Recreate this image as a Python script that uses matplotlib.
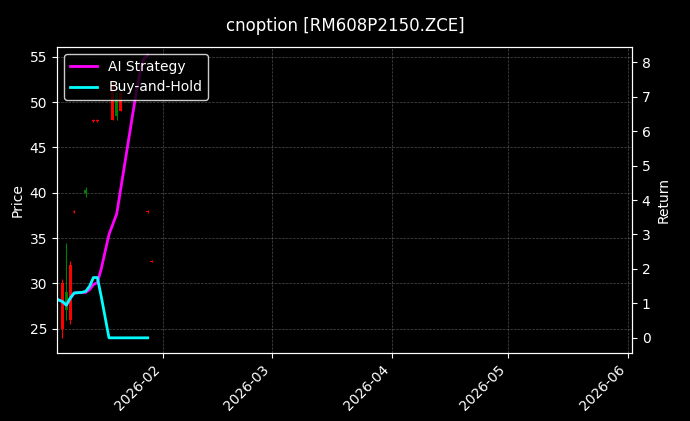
import matplotlib
matplotlib.use("Agg")
import matplotlib.pyplot as plt
import matplotlib.dates as mdates
import pandas as pd

candle_dates = ["2026-01-06","2026-01-07","2026-01-08","2026-01-09","2026-01-12","2026-01-14","2026-01-15",
                "2026-01-19","2026-01-20","2026-01-21","2026-01-28","2026-01-29"]
opens  = [30.0, 27.0, 32.0, 38.0, 40.0, 48.0, 48.0, 52.0, 48.5, 51.0, 38.0, 32.5]
closes = [25.0, 29.0, 26.0, 37.9, 40.3, 47.9, 47.9, 48.0, 51.0, 49.0, 37.9, 32.4]
highs  = [30.5, 34.5, 32.5, 38.1, 40.6, 48.1, 48.1, 52.5, 51.2, 51.2, 38.1, 32.6]
lows   = [24.0, 26.0, 25.5, 37.8, 39.5, 47.8, 47.8, 48.0, 48.0, 49.0, 37.8, 32.3]

line_dates = ["2026-01-05","2026-01-06","2026-01-07","2026-01-08","2026-01-09","2026-01-11","2026-01-12",
              "2026-01-13","2026-01-14","2026-01-15","2026-01-16","2026-01-17","2026-01-18","2026-01-19",
              "2026-01-20","2026-01-21","2026-01-22","2026-01-23","2026-01-24","2026-01-25","2026-01-26",
              "2026-01-27","2026-01-28"]
ai_ret = [1.1, 1.05, 0.95, 1.15, 1.3, 1.32, 1.32, 1.4, 1.55, 1.6, 2.0, 2.5, 3.0, 3.3, 3.6, 4.3, 5.0, 5.7, 6.4, 7.1, 7.7, 8.1, 8.2]
bh_ret = [1.1, 1.05, 0.95, 1.15, 1.3, 1.32, 1.35, 1.5, 1.75, 1.75, 1.2, 0.6, 0.0, 0.0,
          0.0, 0.0, 0.0, 0.0, 0.0, 0.0, 0.0, 0.0, 0.0]

plt.style.use("dark_background")
fig = plt.figure(figsize=(6.9, 4.21), dpi=100)
ax = fig.add_axes([57/690, 1-353/421, 575/690, 306/421])
ax2 = ax.twinx()

cd = pd.to_datetime(candle_dates)
for d, o, c, h, l in zip(cd, opens, closes, highs, lows):
    col = "green" if c >= o else "red"
    ax.vlines(d, l, h, color=col, linewidth=0.8)
    ax.bar(d, abs(c-o) if abs(c-o) > 0.05 else 0.1, bottom=min(o, c), width=0.7, color=col)

ld = pd.to_datetime(line_dates)
ax2.plot(ld, ai_ret, color="#ff00ff", linewidth=2, label="AI Strategy")
ax2.plot(ld, bh_ret, color="#00ffff", linewidth=2, label="Buy-and-Hold")

ax.set_xlim(pd.Timestamp("2026-01-04 14:00"), pd.Timestamp("2026-06-02"))
ax.set_ylim(22.3, 56.1)
ax2.set_ylim(-0.44, 8.44)
ax.set_ylabel("Price")
ax2.set_ylabel("Return")
ax.xaxis.set_major_locator(mdates.MonthLocator())
ax.xaxis.set_major_formatter(mdates.DateFormatter("%Y-%m"))
plt.setp(ax.get_xticklabels(), rotation=45, ha="right")
ax.grid(True, linestyle="--", linewidth=0.5, color="gray", alpha=0.6)
ax2.legend(loc="upper left", facecolor="black", edgecolor="white")
fig.suptitle("cnoption [RM608P2150.ZCE]", y=0.96)
fig.savefig("out.png", dpi=100)
